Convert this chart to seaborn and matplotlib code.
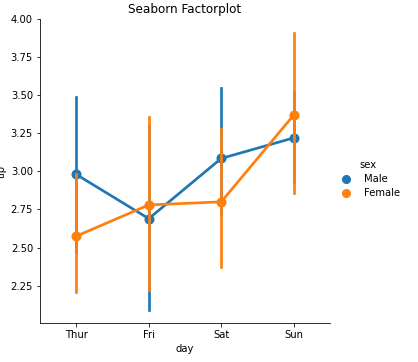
import numpy as np
import pandas as pd
import seaborn as sns
from matplotlib import pyplot as plt
from matplotlib.lines import Line2D

# values: point estimate and interval ends per day / sex
days = ["Thur", "Fri", "Sat", "Sun"]
sexes = ["Male", "Female"]

male_mid = [2.98, 2.69, 3.085, 3.22]
male_lo = [2.47, 2.09, 2.72, 2.93]
male_hi = [3.49, 3.30, 3.55, 3.52]

female_mid = [2.575, 2.78, 2.80, 3.37]
female_lo = [2.21, 2.22, 2.37, 2.86]
female_hi = [2.98, 3.355, 3.28, 3.91]

rows = []
for sex, lo, mid, hi in [("Male", male_lo, male_mid, male_hi),
                         ("Female", female_lo, female_mid, female_hi)]:
    for d, a, m, b in zip(days, lo, mid, hi):
        for v in (a, m, b):
            rows.append({"day": d, "sex": sex, "tip": v})
tips = pd.DataFrame(rows)

fig = plt.figure(figsize=(418 / 72, 362 / 72), dpi=72)
ax = fig.add_axes([40 / 418, 39 / 362, 290 / 418, 304 / 362])

palette = sns.color_palette(n_colors=2)

# median of (lo, mid, hi) is mid; the 100% interval spans lo..hi
sns.pointplot(data=tips, x="day", y="tip", hue="sex",
              order=days, hue_order=sexes, palette=palette,
              estimator="median", errorbar=("pi", 100),
              markers="o", markersize=8, linewidth=2.7,
              legend=False, ax=ax)

ax.set_ylim(2.005, 4.0)
ax.set_title("Seaborn Factorplot")
sns.despine(ax=ax)

# marker-only legend like the old factorplot
handles = [Line2D([], [], marker="o", linestyle="", markersize=8, color=c)
           for c in palette]
fig.legend(handles, sexes, title="sex", loc="center left",
           bbox_to_anchor=(327 / 418, 0.5 + 2 / 362), frameon=False,
           labelspacing=0.4)

fig.savefig("out.png", dpi=72)
